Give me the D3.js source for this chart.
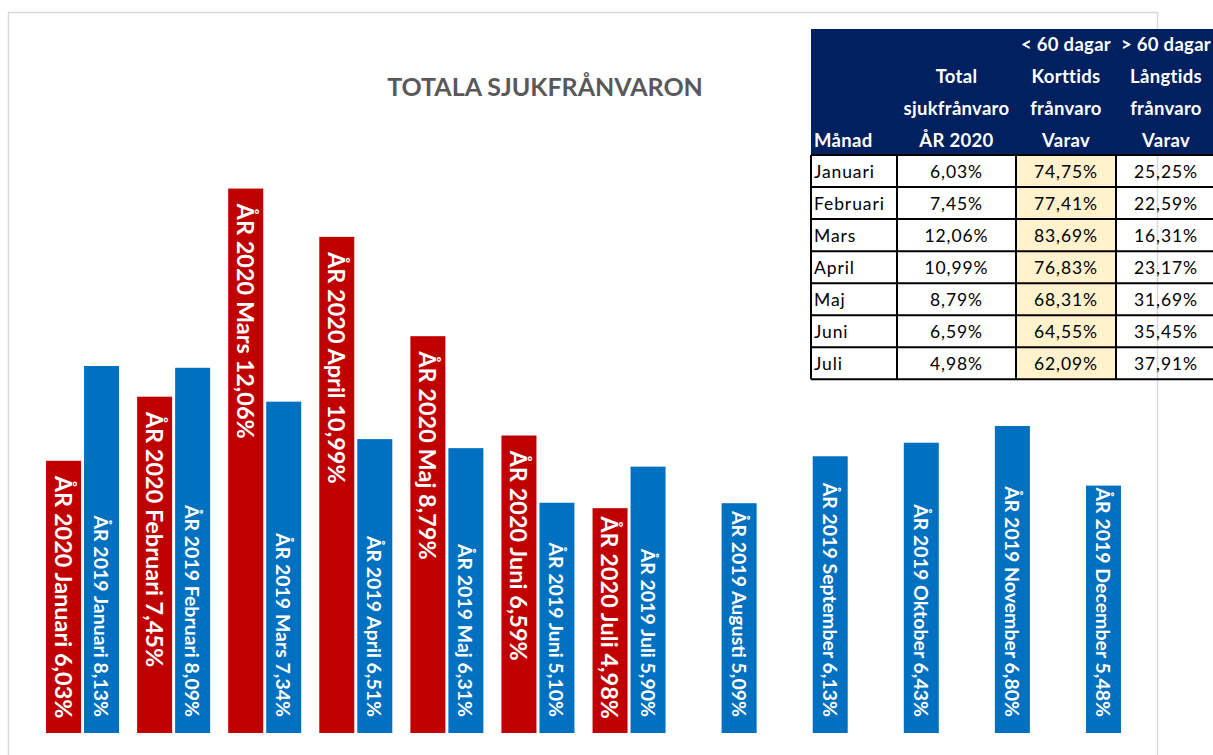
<!DOCTYPE html>
<html>
<head>
<meta charset="utf-8">
<script src="https://cdn.jsdelivr.net/npm/d3@7/dist/d3.min.js"></script>
<style>
  html, body { margin: 0; padding: 0; background: #ffffff; }
  svg { display: block; }
  text { font-family: Lato, "Open Sans", sans-serif; }
</style>
</head>
<body>
<svg id="chart" width="1213" height="755"></svg>
<script>
// ---- data ----
const months = ["Januari", "Februari", "Mars", "April", "Maj", "Juni", "Juli",
                "Augusti", "September", "Oktober", "November", "December"];
const values2020 = [6.03, 7.45, 12.06, 10.99, 8.79, 6.59, 4.98, null, null, null, null, null];
const values2019 = [8.13, 8.09, 7.34, 6.51, 6.31, 5.10, 5.90, 5.09, 6.13, 6.43, 6.80, 5.48];
const seriesKeys = ["2020", "2019"];
const titleText = "TOTALA SJUKFRÅNVARON";

const tableHeaders = [
  ["", "", "", "Månad"],
  ["", "Total", "sjukfrånvaro", "ÅR 2020"],
  ["< 60 dagar", "Korttids", "frånvaro", "Varav"],
  ["> 60 dagar", "Långtids", "frånvaro", "Varav"]
];
const tableMonths = ["Januari", "Februari", "Mars", "April", "Maj", "Juni", "Juli"];
const tableTotal = ["6,03%", "7,45%", "12,06%", "10,99%", "8,79%", "6,59%", "4,98%"];
const tableKort = ["74,75%", "77,41%", "83,69%", "76,83%", "68,31%", "64,55%", "62,09%"];
const tableLang = ["25,25%", "22,59%", "16,31%", "23,17%", "31,69%", "35,45%", "37,91%"];

// ---- layout ----
const svg = d3.select("#chart");
const RED = "#C00000", BLUE = "#0070C0", NAVY = "#002060", YELLOW = "#FFF2CC";

// chart frame
svg.append("rect")
  .attr("x", 8.5).attr("y", 12.5)
  .attr("width", 1149).attr("height", 800)
  .attr("fill", "#ffffff")
  .attr("stroke", "#d9d9d9").attr("stroke-width", 1.5);

// title
svg.append("text")
  .attr("x", 545).attr("y", 96)
  .attr("text-anchor", "middle")
  .attr("font-size", 25).attr("font-weight", "bold")
  .attr("fill", "#595959")
  .text(titleText);

// scales
const x0 = d3.scaleBand().domain(months).range([37, 1130])
  .paddingInner(0.1985).paddingOuter(0.1985 / 2);
const x1 = d3.scaleBand().domain(seriesKeys).range([0, x0.bandwidth()])
  .paddingInner(0.079).paddingOuter(0);
const y = d3.scaleLinear().domain([0, 14]).range([733, 101]);

const fmt = v => d3.format(".2f")(v).replace(".", ",") + "%";

const data = [];
months.forEach((m, i) => {
  if (values2020[i] != null) data.push({ month: m, key: "2020", value: values2020[i] });
  data.push({ month: m, key: "2019", value: values2019[i] });
});

const g = svg.append("g");

g.selectAll("rect.bar")
  .data(data)
  .join("rect")
  .attr("class", "bar")
  .attr("x", d => x0(d.month) + x1(d.key))
  .attr("y", d => y(d.value))
  .attr("width", x1.bandwidth())
  .attr("height", d => y(0) - y(d.value))
  .attr("fill", d => d.key === "2020" ? RED : BLUE);

// labels
const labels = g.selectAll("text.lbl")
  .data(data)
  .join("text")
  .attr("class", "lbl")
  .attr("fill", "#ffffff")
  .attr("font-weight", "bold")
  .attr("font-size", d => d.key === "2020" ? 23.5 : 19.5)
  .attr("dominant-baseline", "central")
  .text(d => "ÅR " + d.key + " " + d.month + " " + fmt(d.value));

labels.each(function (d) {
  const el = d3.select(this);
  const len = this.getComputedTextLength();
  const cx = x0(d.month) + x1(d.key) + x1.bandwidth() / 2;
  const top = y(d.value), base = y(0);
  let start;
  if (d.key === "2020") {
    start = top + 15;
    if (start + len > base - 14) start = (top + base) / 2 - len / 2 - 3;
  } else {
    start = base - 16 - len;
  }
  el.attr("text-anchor", "start")
    .attr("transform", `translate(${cx},${start}) rotate(90)`);
});

// ---- table ----
const tx = [811, 897, 1016, 1116, 1216];
const headTop = 29, headBottom = 155, rowH = 32.05;
const tg = svg.append("g");

tg.append("rect")
  .attr("x", tx[0]).attr("y", headTop)
  .attr("width", tx[4] - tx[0]).attr("height", headBottom - headTop)
  .attr("fill", NAVY);

// yellow column
tg.append("rect")
  .attr("x", tx[2]).attr("y", headBottom)
  .attr("width", tx[3] - tx[2]).attr("height", rowH * tableMonths.length)
  .attr("fill", YELLOW);

const lineYs = [51, 83, 115, 147];
tableHeaders.forEach((col, ci) => {
  col.forEach((t, li) => {
    if (!t) return;
    const left = ci === 0;
    tg.append("text")
      .attr("x", left ? tx[0] + 3 : (tx[ci] + tx[ci + 1]) / 2)
      .attr("y", lineYs[li])
      .attr("text-anchor", left ? "start" : "middle")
      .attr("font-size", 18.5).attr("font-weight", "bold")
      .attr("letter-spacing", 0.3)
      .attr("fill", "#ffffff")
      .text(t);
  });
});

const cols = [tableMonths, tableTotal, tableKort, tableLang];
cols.forEach((col, ci) => {
  col.forEach((t, ri) => {
    const left = ci === 0;
    tg.append("text")
      .attr("x", left ? tx[0] + 3 : (tx[ci] + tx[ci + 1]) / 2)
      .attr("y", headBottom + rowH * ri + rowH / 2 + 6.5)
      .attr("text-anchor", left ? "start" : "middle")
      .attr("font-size", 17.5)
      .attr("letter-spacing", 0.9)
      .attr("fill", "#000000")
      .text(t);
  });
});

// grid lines
const tableBottom = headBottom + rowH * tableMonths.length;
for (let r = 0; r <= tableMonths.length; r++) {
  tg.append("line")
    .attr("x1", tx[0]).attr("x2", tx[4])
    .attr("y1", headBottom + rowH * r).attr("y2", headBottom + rowH * r)
    .attr("stroke", "#000").attr("stroke-width", 2);
}
tx.forEach(xv => {
  tg.append("line")
    .attr("x1", xv).attr("x2", xv)
    .attr("y1", headBottom).attr("y2", tableBottom)
    .attr("stroke", "#000").attr("stroke-width", 2);
});
</script>
</body>
</html>
